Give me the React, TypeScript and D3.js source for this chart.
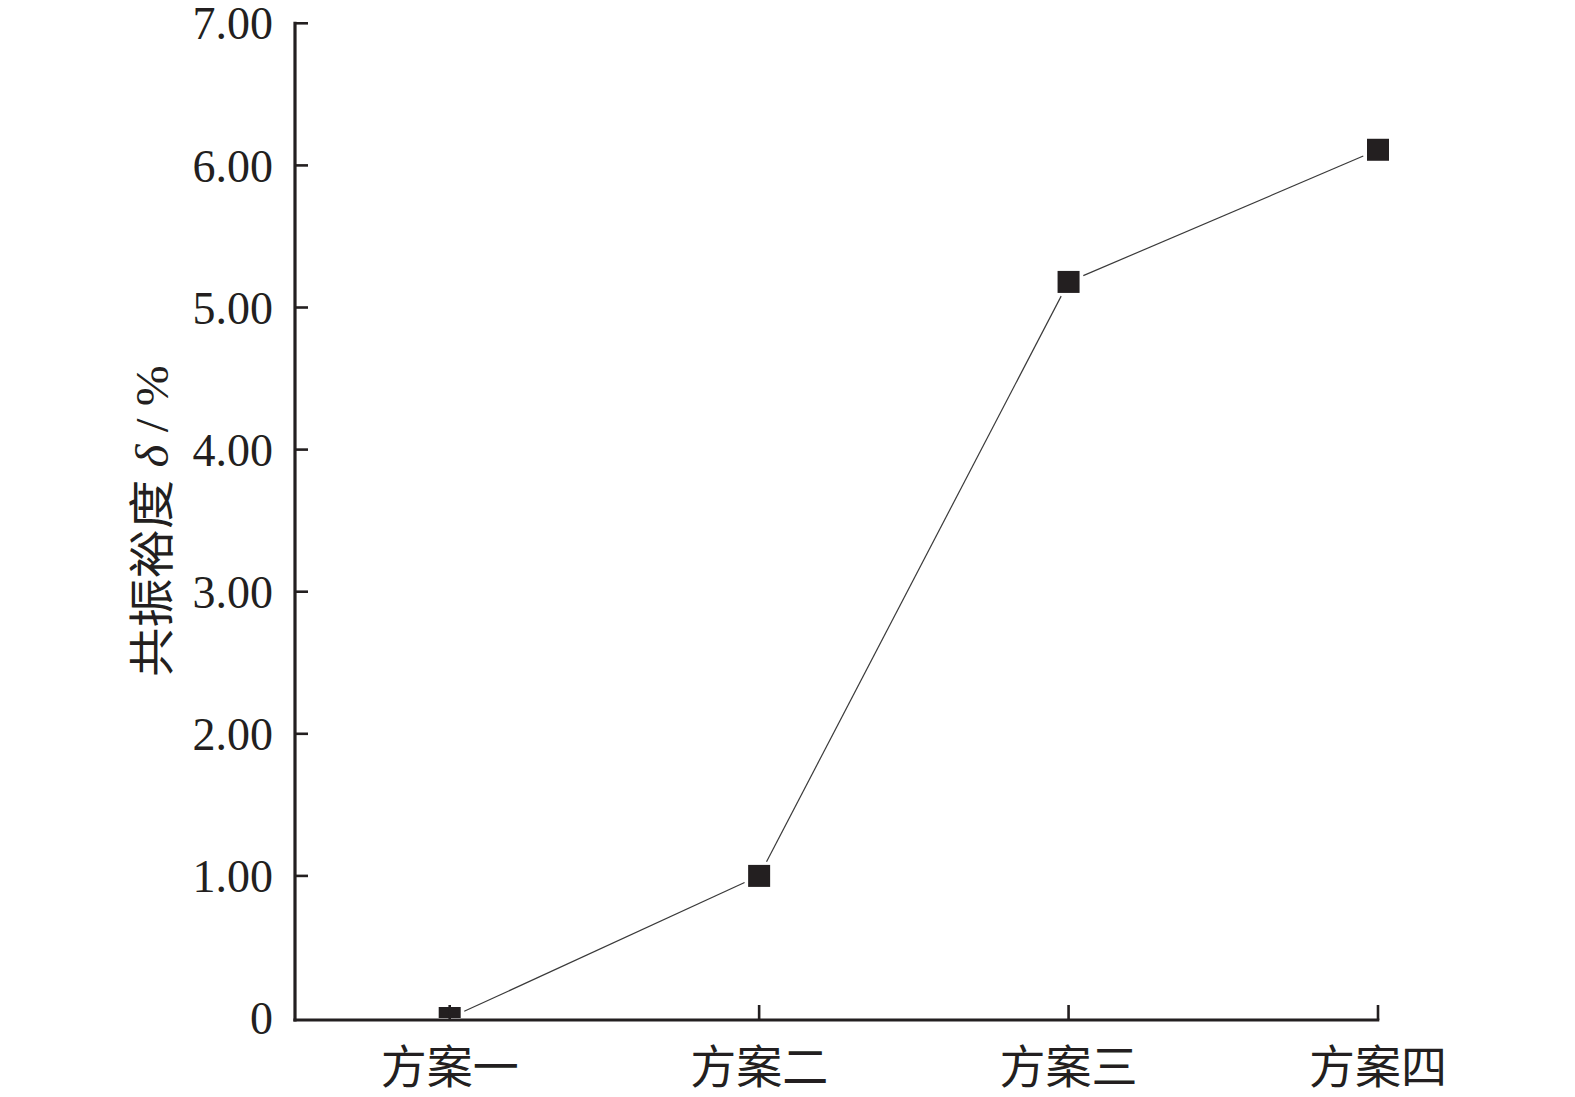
import React from "react";
import * as d3 from "d3";

const categories = ["方案一", "方案二", "方案三", "方案四"];
const values = [0, 1.0, 5.18, 6.11];
const yTicks = [0, 1, 2, 3, 4, 5, 6, 7];
const yTickLabels = ["0", "1.00", "2.00", "3.00", "4.00", "5.00", "6.00", "7.00"];

const W = 1575;
const H = 1097;
const AXIS_X = 295;
const INK = "#231f20";
const SERIF = "'Liberation Serif', 'Times New Roman', serif";
const CJK = "'Noto Sans CJK SC', sans-serif";

export default function App() {
  const y = d3.scaleLinear().domain([0, 7]).range([1018, 23.3]);
  const x = d3.scalePoint<string>().domain(categories).range([449.7, 1378]);
  const pts = categories.map((c, i) => [x(c) as number, y(values[i])] as [number, number]);
  const trim = 16;
  const line = d3.line();
  const segs = pts.slice(0, -1).map((p0, i) => {
    const p1 = pts[i + 1];
    const dx = p1[0] - p0[0];
    const dy = p1[1] - p0[1];
    const L = Math.hypot(dx, dy);
    const ux = dx / L, uy = dy / L;
    return line([
      [p0[0] + ux * trim, p0[1] + uy * trim],
      [p1[0] - ux * trim, p1[1] - uy * trim],
    ]) as string;
  });
  const y0 = y(0);
  const yTop = y(7);
  const xEnd = x(categories[categories.length - 1]) as number;
  const ms = 22;

  return (
    <div style={{ position: "absolute", left: 0, top: 0, width: W, height: H, background: "#fff" }}>
      <svg width={W} height={H} viewBox={`0 0 ${W} ${H}`} style={{ display: "block" }}>
        <defs>
          <clipPath id="plot">
            <rect x={AXIS_X} y={0} width={W - AXIS_X} height={y0} />
          </clipPath>
        </defs>
        <rect x={0} y={0} width={W} height={H} fill="#fff" />
        {/* data line */}
        {segs.map((d, i) => (
          <path key={i} d={d} fill="none" stroke="#3a3a3a" strokeWidth={1.2} />
        ))}
        {/* markers */}
        <g clipPath="url(#plot)">
          {pts.map((p, i) => (
            <rect key={i} x={p[0] - ms / 2} y={p[1] - ms / 2} width={ms} height={ms} fill={INK} />
          ))}
        </g>
        {/* y axis */}
        <line x1={AXIS_X} x2={AXIS_X} y1={yTop - 1.5} y2={y0 + 3.5} stroke={INK} strokeWidth={3.2} />
        {yTicks.map((t, i) => (
          <g key={t}>
            {t > 0 && (
              <line x1={AXIS_X} x2={AXIS_X + 13} y1={y(t)} y2={y(t)} stroke={INK} strokeWidth={2.6} />
            )}
            <text
              x={AXIS_X - 22}
              y={y(t)}
              dy="0.35em"
              textAnchor="end"
              fontFamily={SERIF}
              fontSize={46}
              fill={INK}
            >
              {yTickLabels[i]}
            </text>
          </g>
        ))}
        {/* x axis */}
        <line x1={AXIS_X - 1.6} x2={xEnd + 1.3} y1={y0 + 2} y2={y0 + 2} stroke={INK} strokeWidth={3.2} />
        {categories.map((c) => (
          <g key={c}>
            <line x1={x(c) as number} x2={x(c) as number} y1={y0 + 2} y2={y0 - 13} stroke={INK} strokeWidth={2.6} />
            <text
              x={x(c) as number}
              y={1083}
              textAnchor="middle"
              fontFamily={CJK}
              fontSize={46}
              fill={INK}
            >
              {c}
            </text>
          </g>
        ))}
        {/* y title */}
        <text
          transform={`translate(168, 521) rotate(-90) scale(1.07, 1)`}
          textAnchor="middle"
          fontSize={46}
          fill={INK}
        >
          <tspan fontFamily={CJK}>共振裕度</tspan>
          <tspan fontFamily={SERIF}> </tspan>
          <tspan fontFamily={SERIF} fontStyle="italic">δ</tspan>
          <tspan fontFamily={SERIF}> / %</tspan>
        </text>
      </svg>
    </div>
  );
}
